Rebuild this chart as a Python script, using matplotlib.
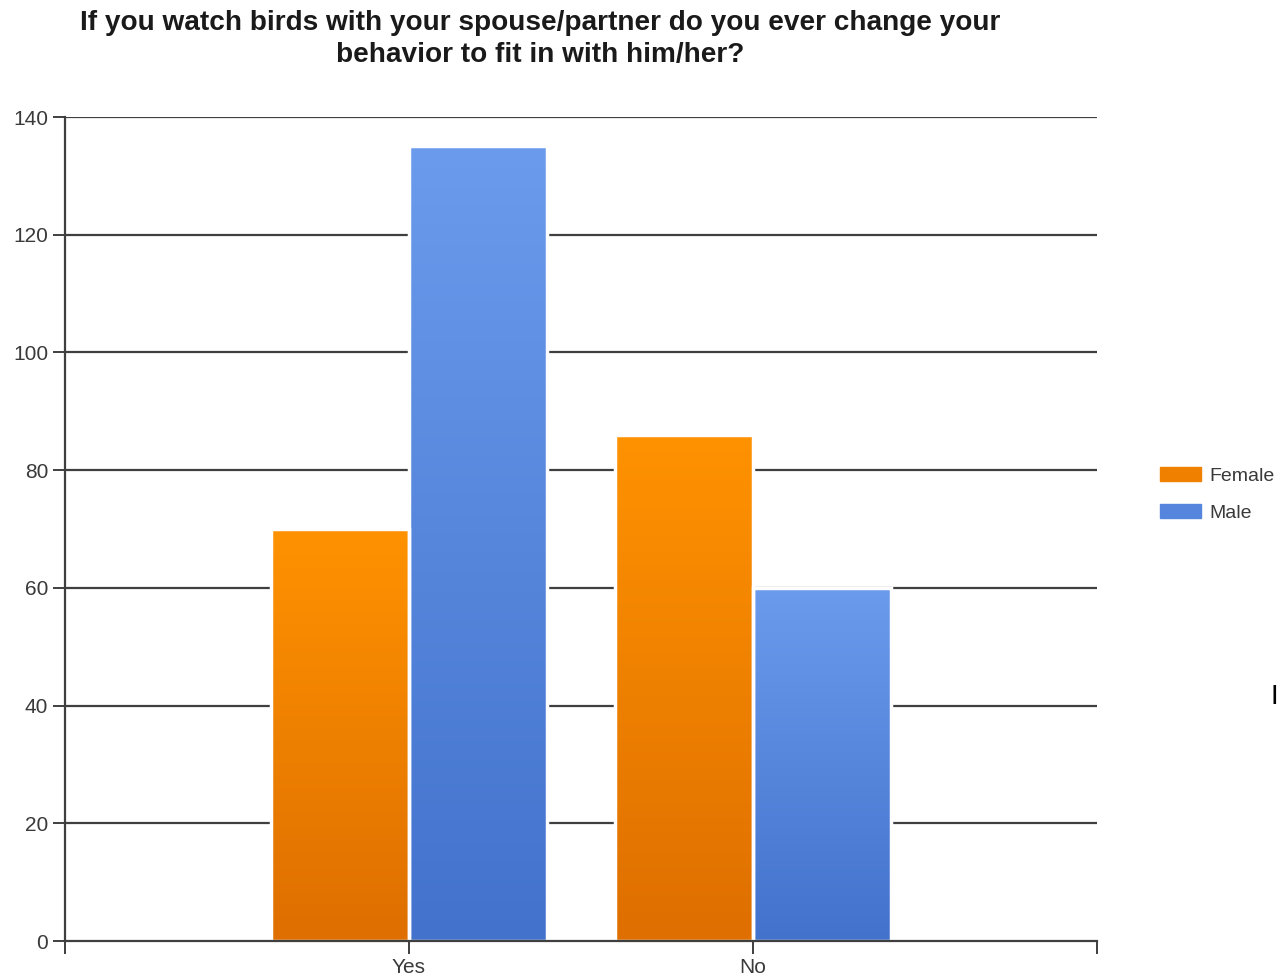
#!/usr/bin/env python3
"""
Grouped bar chart: changing behavior when birding with a spouse/partner
"""
import matplotlib.patches as patches
import matplotlib.pyplot as plt
import numpy as np
from matplotlib.colors import LinearSegmentedColormap

# Data
CATEGORIES = ["Yes", "No"]
SERIES = ["Female", "Male"]
FEMALE = [70, 86]
MALE = [135, 60]
Y_TICKS = [0, 20, 40, 60, 80, 100, 120, 140]

TITLE = ("If you watch birds with your spouse/partner do you ever change your\n"
         "behavior to fit in with him/her?")

# Style
FONT = "Liberation Sans"
ORANGE_TOP, ORANGE_BOTTOM = "#FF9200", "#DE6F00"
BLUE_TOP, BLUE_BOTTOM = "#6A9BEC", "#4272CC"
GRID_COLOR = "#3f3f3f"
TEXT_COLOR = "#3a3a3a"
BAR_WIDTH = 0.4

plt.rcParams["font.family"] = [FONT, "DejaVu Sans"]

fig = plt.figure(figsize=(12.78, 9.8), dpi=100)
ax = fig.add_axes([65 / 1278, 1 - 941 / 980, 1032 / 1278, 824 / 980])

x = np.arange(len(CATEGORIES))
grad = np.linspace(1, 0, 256).reshape(-1, 1)


def gradient_bars(xpos, values, top, bottom, label):
    cmap = LinearSegmentedColormap.from_list(label, [bottom, top])
    bars = ax.bar(xpos, values, BAR_WIDTH, facecolor="none",
                  edgecolor="white", linewidth=2.5, zorder=4, label=label)
    for b in bars:
        x0, w, h = b.get_x(), b.get_width(), b.get_height()
        ax.imshow(grad, cmap=cmap, extent=(x0, x0 + w, 0, h),
                  aspect="auto", zorder=3, vmin=0, vmax=1)
    return bars


gradient_bars(x - BAR_WIDTH / 2, FEMALE, ORANGE_TOP, ORANGE_BOTTOM, "Female")
gradient_bars(x + BAR_WIDTH / 2, MALE, BLUE_TOP, BLUE_BOTTOM, "Male")

ax.set_xlim(-1, 2)
ax.set_ylim(0, 140)
ax.set_yticks(Y_TICKS)
ax.set_yticklabels([str(v) for v in Y_TICKS])
ax.set_xticks([-1, 0, 1, 2])
ax.set_xticklabels(["", CATEGORIES[0], CATEGORIES[1], ""])

for v in Y_TICKS[1:]:
    ax.axhline(v, color=GRID_COLOR, linewidth=1.6, zorder=1)

for side in ["top", "right"]:
    ax.spines[side].set_visible(False)
for side in ["left", "bottom"]:
    ax.spines[side].set_color(GRID_COLOR)
    ax.spines[side].set_linewidth(1.6)
    ax.spines[side].set_zorder(5)

ax.tick_params(axis="both", colors=GRID_COLOR, length=9, width=1.4,
               labelsize=15, labelcolor=TEXT_COLOR, pad=3)
ax.tick_params(axis="x", pad=3)

fig.text(540 / 1278, 1 - 39 / 980, TITLE, ha="center", va="center",
         fontsize=20.2, fontweight="bold", color="#1a1a1a", linespacing=1.32)

handles = [patches.Patch(facecolor="#F08000", edgecolor="#F08000"),
           patches.Patch(facecolor="#5585DD", edgecolor="#5585DD")]
fig.legend(handles, SERIES, loc="upper left",
           bbox_to_anchor=(1160 / 1278, 1 - 467 / 980), frameon=False,
           fontsize=14, handlelength=2.1, handleheight=0.7,
           labelspacing=1.0, handletextpad=0.45, borderpad=0,
           borderaxespad=0, labelcolor=TEXT_COLOR)

# stray text cursor at the right edge of the original screenshot
fig.text(1274 / 1278, 1 - 697 / 980, "I", ha="center", va="center",
         fontsize=20, color="black")

fig.savefig("out.png", dpi=100, facecolor="white")
